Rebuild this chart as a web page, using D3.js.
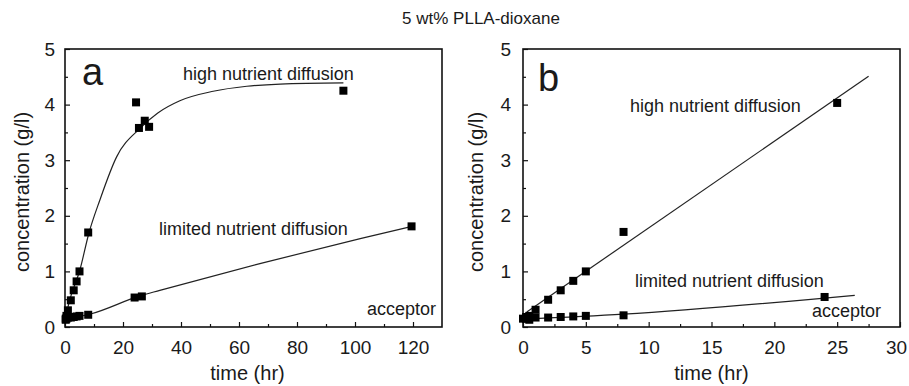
<!DOCTYPE html>
<html>
<head>
<meta charset="utf-8">
<script src="https://cdn.jsdelivr.net/npm/d3@7"></script>
<style>
  body { margin: 0; background: #fff; }
  text { font-family: "Liberation Sans", Arial, sans-serif; fill: #1a1a1a; }
</style>
</head>
<body>
<svg id="chart" width="909" height="386"></svg>
<script>
// panel a data (time in hr, concentration in g/l)
const aHighTime = [0.25, 0.5, 1, 2, 3, 4, 5, 8, 24.5, 25.5, 27.5, 29, 96];
const aHighConc = [0.15, 0.2, 0.3, 0.48, 0.66, 0.82, 1.0, 1.7, 4.04, 3.58, 3.71, 3.6, 4.25];
const aLowTime = [0.25, 0.5, 1, 2, 3, 4, 5, 8, 24, 26.5, 119.5];
const aLowConc = [0.13, 0.15, 0.17, 0.17, 0.18, 0.19, 0.2, 0.22, 0.53, 0.55, 1.81];
// fitted curves
const aHighFitTime = [0.3, 1.6, 5.1, 8.3, 12, 17.8, 25.8, 32, 39.6, 51.1, 62.7, 74.2, 96];
const aHighFitConc = [0.2, 0.48, 1.02, 1.7, 2.28, 3.06, 3.57, 3.85, 4.07, 4.24, 4.33, 4.37, 4.39];
const aLowFitTime = [0.5, 8.5, 25.8, 32.7, 67.2, 101.8, 119.6];
const aLowFitConc = [0.15, 0.23, 0.56, 0.66, 1.14, 1.59, 1.81];

// panel b data
const bHighTime = [0, 0.25, 0.5, 1, 2, 3, 4, 5, 8, 25];
const bHighConc = [0.15, 0.18, 0.2, 0.31, 0.49, 0.66, 0.83, 1.0, 1.71, 4.03];
const bLowTime = [0.25, 0.5, 1, 2, 3, 4, 5, 8, 24];
const bLowConc = [0.15, 0.13, 0.17, 0.17, 0.18, 0.19, 0.2, 0.21, 0.54];
const bHighFitTime = [0.3, 27.5];
const bHighFitConc = [0.27, 4.51];
const bLowFitTime = [0, 8, 26.4];
const bLowFitConc = [0.14, 0.23, 0.57];

const yTicks = [0, 1, 2, 3, 4, 5];
const aXTicks = [0, 20, 40, 60, 80, 100, 120];
const bXTicks = [0, 5, 10, 15, 20, 25, 30];

const svg = d3.select("#chart");
const plotTop = 49, plotBottom = 327;

const zip = (xs, ys) => xs.map((x, i) => [x, ys[i]]);

svg.append("text")
  .attr("x", 481).attr("y", 24)
  .attr("text-anchor", "middle")
  .style("font-size", "17px")
  .text("5 wt% PLLA-dioxane");

function drawPanel(p) {
  const x = d3.scaleLinear().domain([0, p.xMax]).range([p.left, p.right]);
  const y = d3.scaleLinear().domain([0, 5]).range([plotBottom, plotTop]);
  const g = svg.append("g");

  // minor ticks
  g.append("g")
    .attr("transform", "translate(0," + plotBottom + ")")
    .call(d3.axisBottom(x).tickValues(p.minorX).tickSizeInner(-3).tickSizeOuter(0).tickFormat(""))
    .call(s => s.select(".domain").remove());
  g.append("g")
    .attr("transform", "translate(" + p.left + ",0)")
    .call(d3.axisLeft(y).tickValues(d3.range(0.5, 5, 1)).tickSizeInner(-3).tickSizeOuter(0).tickFormat(""))
    .call(s => s.select(".domain").remove());

  // major ticks
  const xa = g.append("g")
    .attr("transform", "translate(0," + plotBottom + ")")
    .call(d3.axisBottom(x).tickValues(p.xTicks).tickFormat(d3.format("d"))
      .tickSizeInner(-5).tickSizeOuter(0).tickPadding(14));
  xa.select(".domain").remove();
  xa.selectAll("text").style("font-size", "19px").attr("fill", "#1a1a1a")
    .attr("x", d => d === p.xMax ? -4 : 0); // keep the last label inside the page

  const ya = g.append("g")
    .attr("transform", "translate(" + p.left + ",0)")
    .call(d3.axisLeft(y).tickValues(yTicks).tickFormat(d3.format("d"))
      .tickSizeInner(-5).tickSizeOuter(0).tickPadding(p.yPad));
  ya.select(".domain").remove();
  ya.selectAll("text").style("font-size", "19px").attr("fill", "#1a1a1a");

  g.selectAll(".tick line").attr("stroke", "#111").attr("stroke-width", 1.2);

  // frame
  g.append("rect")
    .attr("x", p.left).attr("y", plotTop)
    .attr("width", p.right - p.left).attr("height", plotBottom - plotTop)
    .attr("fill", "none").attr("stroke", "#111").attr("stroke-width", 1.6);

  // fit lines
  const line = d3.line().x(d => x(d[0])).y(d => y(d[1])).curve(d3.curveMonotoneX);
  p.fits.forEach(f => {
    g.append("path").datum(f)
      .attr("d", line)
      .attr("fill", "none").attr("stroke", "#222").attr("stroke-width", 1.2);
  });

  // markers
  const sz = 8;
  p.series.forEach(s => {
    g.selectAll(null).data(s).enter().append("rect")
      .attr("x", d => x(d[0]) - sz / 2)
      .attr("y", d => y(d[1]) - sz / 2)
      .attr("width", sz).attr("height", sz)
      .attr("fill", "#000");
  });

  // axis titles
  g.append("text")
    .attr("x", (p.left + p.right) / 2 - p.xtOff).attr("y", 380)
    .attr("text-anchor", "middle")
    .style("font-size", "20px")
    .text("time (hr)");
  g.append("text")
    .attr("transform", "translate(" + p.ytX + "," + ((plotTop + plotBottom) / 2 + 4) + ") rotate(-90)")
    .attr("text-anchor", "middle")
    .style("font-size", "20px")
    .text("concentration (g/l)");

  // panel letter and annotations
  g.append("text")
    .attr("x", p.letter[0]).attr("y", p.letter[1])
    .style("font-size", "38px")
    .text(p.name);
  p.notes.forEach(n => {
    g.append("text")
      .attr("x", n[0]).attr("y", n[1])
      .style("font-size", "18px")
      .text(n[2]);
  });
}

drawPanel({
  name: "a", left: 65, right: 442, xMax: 130,
  xTicks: aXTicks, minorX: d3.range(10, 130, 20), yPad: 10, xtOff: 6, ytX: 29,
  fits: [zip(aHighFitTime, aHighFitConc), zip(aLowFitTime, aLowFitConc)],
  series: [zip(aHighTime, aHighConc), zip(aLowTime, aLowConc)],
  letter: [82, 85],
  notes: [[183, 80, "high nutrient diffusion"], [159, 235, "limited nutrient diffusion"], [367, 315, "acceptor"]]
});

drawPanel({
  name: "b", left: 523, right: 900, xMax: 30,
  xTicks: bXTicks, minorX: d3.range(2.5, 30, 5), yPad: 12, xtOff: 0, ytX: 483,
  fits: [zip(bHighFitTime, bHighFitConc), zip(bLowFitTime, bLowFitConc)],
  series: [zip(bHighTime, bHighConc), zip(bLowTime, bLowConc)],
  letter: [538, 91],
  notes: [[630, 112, "high nutrient diffusion"], [635, 287, "limited nutrient diffusion"], [812, 317, "acceptor"]]
});
</script>
</body>
</html>
